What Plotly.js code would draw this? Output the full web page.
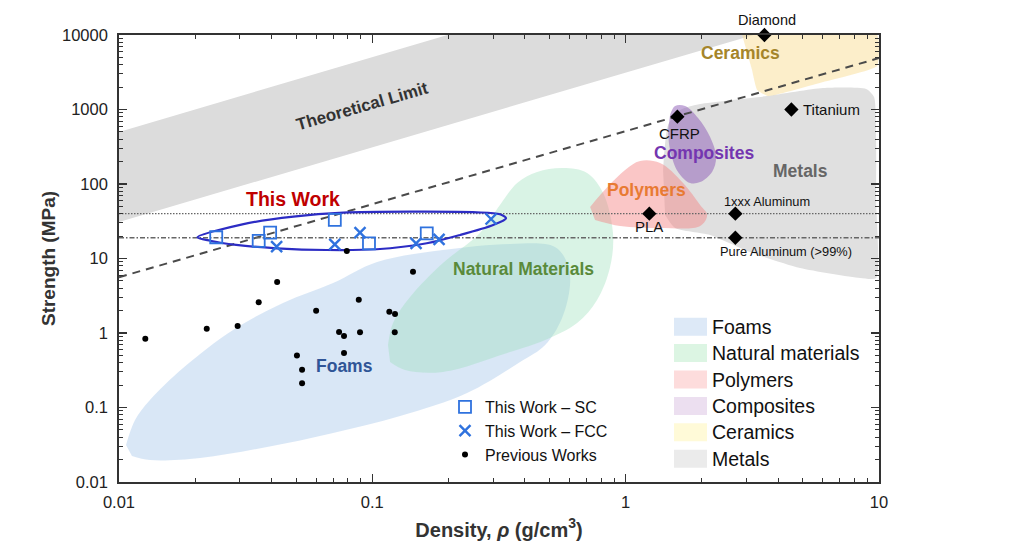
<!DOCTYPE html>
<html><head><meta charset="utf-8">
<script src="https://cdn.plot.ly/plotly-3.0.1.min.js"></script>
<style>html,body{margin:0;padding:0;background:#fff;}#chart{width:1024px;height:549px;}</style>
</head><body><div id="chart"></div>
<script>
// ---------------- data ----------------
const xTickVals = [0.01, 0.1, 1, 10];
const xTickText = ['0.01', '0.1', '1', '10'];
const yTickVals = [0.01, 0.1, 1, 10, 100, 1000, 10000];
const yTickText = ['0.01', '0.1', '1', '10', '100', '1000', '10000'];

// This work
const scDensity  = [0.0242, 0.0356, 0.0395, 0.0711, 0.0970, 0.164];
const scStrength = [19.3, 17.2, 22.2, 32.9, 16.0, 21.8];
const fccDensity  = [0.0419, 0.0711, 0.0894, 0.1488, 0.1834, 0.2942];
const fccStrength = [14.4, 15.5, 22.2, 16.0, 18.1, 33.9];

// Previous works
const prevDensity  = [0.0127, 0.0222, 0.0294, 0.0356, 0.0421, 0.0504, 0.0528, 0.0528, 0.0600, 0.0739,
                      0.0773, 0.0773, 0.0884, 0.0894, 0.1167, 0.1229, 0.1226, 0.1447, 0.0793];
const prevStrength = [0.84, 1.14, 1.24, 2.58, 4.84, 0.50, 0.322, 0.211, 1.99, 1.03,
                      0.911, 0.539, 2.80, 1.02, 1.93, 1.80, 1.02, 6.65, 12.6];

// Reference materials
const refNames    = ['Diamond', 'Titanium', 'CFRP', 'PLA', '1xxx Aluminum', 'Pure Aluminum (>99%)'];
const refDensity  = [3.53, 4.51, 1.6, 1.24, 2.71, 2.71];
const refStrength = [10000, 1000, 800, 40, 40, 19];

// Guide lines
const guideX = [0.01, 10];
const guideY = [5.6, 4900];
const alu1xxxLineX = [0.01, 10];
const alu1xxxLineY = [40, 40];
const aluPureLineX = [0.01, 10];
const aluPureLineY = [19, 19];

// Material regions (outlines)
const bandX = [0.01, 0.01, 0.198, 3.2];
const bandY = [31, 500, 10000, 10000];
const foamsX = [0.01066, 0.01157, 0.01325, 0.0179, 0.0282, 0.0444, 0.070, 0.1044, 0.190, 0.350, 0.526, 0.592,
                0.603, 0.561, 0.481, 0.383, 0.2366, 0.1287, 0.070, 0.0384, 0.0209, 0.01325, 0.01125];
const foamsY = [0.0314, 0.0679, 0.126, 0.339, 1.10, 2.53, 4.69, 8.98, 13.0, 15.7, 14.3, 8.18,
                4.41, 1.59, 0.690, 0.408, 0.157, 0.0769, 0.0455, 0.0295, 0.0210, 0.0197, 0.0223];
const naturalX = [0.1153, 0.1207, 0.1409, 0.190, 0.266, 0.319, 0.373, 0.447, 0.566, 0.704, 0.815, 0.891,
                  0.868, 0.771, 0.643, 0.481, 0.350, 0.190, 0.1346, 0.1175];
const naturalY = [0.690, 1.36, 3.04, 8.71, 22.0, 52.3, 103, 145, 164, 141, 75.7, 22.0,
                  7.69, 2.77, 1.36, 0.805, 0.556, 0.300, 0.319, 0.408];
const polymersX = [0.724, 0.793, 0.995, 1.140, 1.367, 1.685, 1.967, 2.096, 1.967, 1.367, 0.951, 0.757];
const polymersY = [49.1, 71.2, 154, 204, 191, 103, 52.3, 38.4, 27.3, 25.7, 27.3, 32.9];
const compositesX = [1.497, 1.567, 1.716, 1.931, 2.154, 2.275, 2.193, 1.967, 1.796, 1.610, 1.497, 1.470];
const compositesY = [844, 1114, 1114, 769, 427, 230, 145, 106, 103, 145, 286, 531];
const metalsX = [1.405, 1.470, 1.640, 1.967, 3.615, 6.016, 8.90, 9.56, 9.74, 9.74, 9.74, 8.42, 4.88, 3.098, 2.154, 1.567, 1.431];
const metalsY = [154, 619, 985, 1185, 1518, 1944, 1884, 1471, 390, 61, 5.47, 5.47, 7.45, 12.2, 20.7, 25.7, 38.4];
const ceramicsX = [2.882, 9.83, 9.83, 6.016, 3.649, 3.303, 3.155];
const ceramicsY = [10000, 10000, 3836, 2339, 1518, 1828, 3390];
const thisWorkX = [0.0204, 0.031, 0.0488, 0.0768, 0.141, 0.258, 0.319, 0.337, 0.300, 0.222, 0.164, 0.104, 0.066, 0.042, 0.029, 0.0229, 0.0204];
const thisWorkY = [19.3, 29.0, 36.4, 41.2, 42.5, 41.7, 39.2, 34.6, 28.2, 20.7, 16.0, 13.3, 13.0, 13.7, 15.2, 17.3, 19.3];

// Region legend
const regionNames = ['Foams', 'Natural materials', 'Polymers', 'Composites', 'Ceramics', 'Metals'];
const regionSwatch = ['#dde9f7', '#dcf5e3', '#fddcdc', '#ecdff0', '#fffad8', '#ebebeb'];

// ---------------- drawing ----------------
const FONT = 'Liberation Sans, Arial, sans-serif';
const PL = 119, PR = 879, PT = 35, PB = 482;
const px2x = p => (p - PL) / (PR - PL);
const py2y = p => (PB - p) / (PB - PT);

// minor tick positions (2..9 in every decade of the axis range)
function minorTicks(lo, hi) {
  const v = [];
  for (let e = lo; e < hi; e++) for (let d = 2; d <= 9; d++) v.push(d * Math.pow(10, e));
  return v;
}

function region(x, y, fill, smooth) {
  return {type: 'scatter', mode: 'lines', x: x, y: y, fill: 'toself', fillcolor: fill,
    line: {width: 0, shape: smooth ? 'spline' : 'linear', smoothing: smooth || 0},
    hoverinfo: 'skip', showlegend: false};
}

const traces = [
  region(bandX, bandY, '#dcdcdc', 0),
  region(metalsX, metalsY, '#e0e0e0', 0.6),
  region(ceramicsX, ceramicsY, 'rgba(250,222,150,0.5)', 0.4),
  region(foamsX, foamsY, 'rgba(160,195,232,0.4)', 1),
  region(naturalX, naturalY, 'rgba(150,222,182,0.36)', 1),
  region(polymersX, polymersY, 'rgba(245,128,128,0.45)', 1),
  region(compositesX, compositesY, 'rgba(140,90,182,0.5)', 1),
  {type: 'scatter', mode: 'lines', x: guideX, y: guideY, line: {color: '#4a4a4a', width: 2, dash: '8px,6px'},
    hoverinfo: 'skip', showlegend: false},
  {type: 'scatter', mode: 'lines', x: alu1xxxLineX, y: alu1xxxLineY, line: {color: '#666', width: 1.4, dash: '1.5px,1.5px'},
    hoverinfo: 'skip', showlegend: false},
  {type: 'scatter', mode: 'lines', x: aluPureLineX, y: aluPureLineY, line: {color: '#666', width: 1.4, dash: '5px,2px,1.5px,2px'},
    hoverinfo: 'skip', showlegend: false},
  {type: 'scatter', mode: 'lines', x: thisWorkX, y: thisWorkY, fill: 'toself', fillcolor: 'rgba(0,0,0,0)',
    line: {color: '#2c2cc4', width: 2.2, shape: 'spline', smoothing: 0.8}, hoverinfo: 'skip', showlegend: false},
  {type: 'scatter', mode: 'markers', name: 'This Work \u2013 SC', x: scDensity, y: scStrength,
    marker: {symbol: 'square-open', size: 12, color: '#2f72de', line: {width: 1.8}}},
  {type: 'scatter', mode: 'markers', name: 'This Work \u2013 FCC', x: fccDensity, y: fccStrength,
    marker: {symbol: 'x-thin-open', size: 11, color: '#2f72de', line: {width: 2.4, color: '#2f72de'}}},
  {type: 'scatter', mode: 'markers', name: 'Previous Works', x: prevDensity, y: prevStrength,
    marker: {symbol: 'circle', size: 6, color: '#000'}},
  {type: 'scatter', mode: 'markers', x: refDensity, y: refStrength, cliponaxis: false,
    marker: {symbol: 'diamond', size: 11, color: '#000'}, showlegend: false, text: refNames, hoverinfo: 'text'}
];

const annotations = [];
// reference material labels
const refLabelOpts = [
  {xshift: 3, yshift: 15, xanchor: 'center', size: 14.5},
  {xshift: 10, yshift: 0, xanchor: 'left', size: 15},
  {xshift: 2, yshift: -17, xanchor: 'center', size: 15},
  {xshift: 0, yshift: -13, xanchor: 'center', size: 15},
  {xshift: -13, yshift: 12, xanchor: 'left', size: 12.8},
  {xshift: -17, yshift: -14, xanchor: 'left', size: 12.8}
];
refNames.forEach((n, i) => {
  const o = refLabelOpts[i];
  annotations.push({x: Math.log10(refDensity[i]), y: Math.log10(refStrength[i]), xref: 'x', yref: 'y',
    text: n, showarrow: false, xanchor: o.xanchor, yanchor: 'middle', xshift: o.xshift, yshift: o.yshift,
    font: {family: FONT, size: o.size, color: '#111'}});
});
// region labels
const regionLabels = [
  {t: 'Theoretical Limit', x: 0.0908, y: 1114, c: '#333333', s: 17, a: -16},
  {t: 'This Work', x: 0.0485, y: 62.9, c: '#c00000', s: 19.5, a: 0},
  {t: 'Natural Materials', x: 0.3946, y: 7.16, c: '#5a8a3a', s: 17.5, a: 0},
  {t: 'Foams', x: 0.0776, y: 0.3606, c: '#2f5597', s: 17.5, a: 0},
  {t: 'Polymers', x: 1.204, y: 83.1, c: '#e87a33', s: 17.5, a: 0},
  {t: 'Composites', x: 2.039, y: 258, c: '#7436b0', s: 17.5, a: 0},
  {t: 'Metals', x: 4.88, y: 150.8, c: '#666666', s: 17.5, a: 0},
  {t: 'Ceramics', x: 2.847, y: 5675, c: '#a5852a', s: 17.5, a: 0}
];
regionLabels.forEach(r => annotations.push({x: Math.log10(r.x), y: Math.log10(r.y), xref: 'x', yref: 'y',
  text: r.t, showarrow: false, textangle: r.a, xanchor: 'center', yanchor: 'middle',
  font: {family: FONT, size: r.s, color: r.c, weight: 'bold'}}));

// region legend (manual swatches)
const shapes = [];
regionNames.forEach((n, i) => {
  const cy = 326.7 + i * 26.4;
  shapes.push({type: 'rect', xref: 'paper', yref: 'paper', x0: px2x(674), x1: px2x(707),
    y0: py2y(cy + 9), y1: py2y(cy - 9), fillcolor: regionSwatch[i], line: {width: 0}, layer: 'above'});
  annotations.push({xref: 'paper', yref: 'paper', x: px2x(710), y: py2y(cy), text: n, showarrow: false,
    xanchor: 'left', yanchor: 'middle', font: {family: FONT, size: 19.5, color: '#111'}});
});

const axisCommon = {
  type: 'log', showline: true, linecolor: '#333', linewidth: 1.8, mirror: 'allticks',
  ticks: 'inside', ticklen: 8, tickwidth: 1.5, tickcolor: '#333', tickmode: 'array',
  showgrid: false, zeroline: false, tickfont: {family: FONT, size: 16.5, color: '#222'}
};

const layout = {
  width: 1024, height: 549,
  margin: {l: PL, r: 1024 - PR, t: PT, b: 549 - PB},
  paper_bgcolor: '#fff', plot_bgcolor: '#fff',
  font: {family: FONT, color: '#222'},
  xaxis: Object.assign({}, axisCommon, {range: [-2, 1], tickvals: xTickVals, ticktext: xTickText,
    ticklabelstandoff: 4,
    minor: {tickmode: 'array', tickvals: minorTicks(-2, 1), ticks: 'inside', ticklen: 4, tickwidth: 1, tickcolor: '#333', showgrid: false},
    title: {text: 'Density, <i>\u03c1</i> (g/cm<sup>3</sup>)', standoff: 13,
      font: {family: FONT, size: 20, color: '#333', weight: 'bold'}}}),
  yaxis: Object.assign({}, axisCommon, {range: [-2, 4], tickvals: yTickVals, ticktext: yTickText,
    ticklabelstandoff: 6,
    minor: {tickmode: 'array', tickvals: minorTicks(-2, 4), ticks: 'inside', ticklen: 4, tickwidth: 1, tickcolor: '#333', showgrid: false},
    title: {text: 'Strength (MPa)', standoff: 1,
      font: {family: FONT, size: 19, color: '#333', weight: 'bold'}}}),
  showlegend: true,
  legend: {x: px2x(445), y: py2y(390), xanchor: 'left', yanchor: 'top', bgcolor: 'rgba(0,0,0,0)',
    borderwidth: 0, font: {family: FONT, size: 16, color: '#111'}, tracegroupgap: 0},
  annotations: annotations,
  shapes: shapes
};

Plotly.newPlot('chart', traces, layout, {displayModeBar: false, staticPlot: true});
</script></body></html>
